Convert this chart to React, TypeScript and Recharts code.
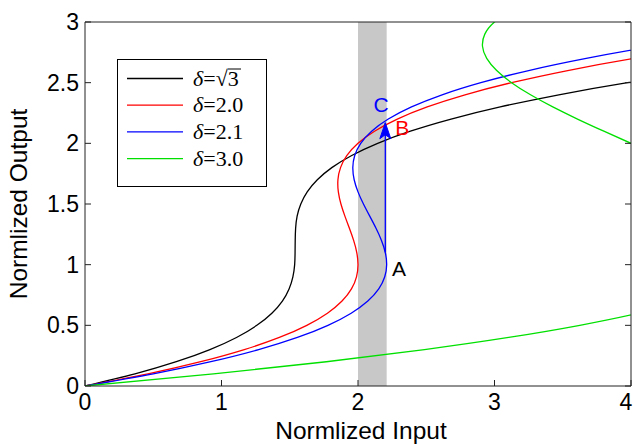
import { Legend, Line, LineChart, ReferenceArea, ReferenceDot, XAxis, YAxis } from "recharts";

const outputSqrt3 = [0, 0.1, 0.2, 0.3, 0.4, 0.5, 0.6, 0.7, 0.8, 0.9, 1.0, 1.1, 1.2, 1.3, 1.4, 1.5, 1.6, 1.7, 1.8, 1.9, 2.0, 2.1, 2.2, 2.3, 2.4, 2.5, 2.6];
const inputSqrt3 = [0, 0.366, 0.669, 0.915, 1.11, 1.259, 1.369, 1.446, 1.495, 1.523, 1.536, 1.539, 1.54, 1.543, 1.554, 1.581, 1.628, 1.702, 1.808, 1.954, 2.144, 2.384, 2.682, 3.042, 3.471, 3.975, 4.558];

const output20 = [0, 0.1, 0.2, 0.3, 0.4, 0.5, 0.6, 0.7, 0.8, 0.9, 1.0, 1.1, 1.2, 1.3, 1.4, 1.5, 1.6, 1.7, 1.8, 1.9, 2.0, 2.1, 2.2, 2.3, 2.4, 2.5, 2.6, 2.7, 2.8];
const input20 = [0, 0.461, 0.848, 1.167, 1.424, 1.625, 1.776, 1.883, 1.952, 1.989, 2.0, 1.991, 1.968, 1.937, 1.904, 1.875, 1.856, 1.853, 1.872, 1.919, 2.0, 2.121, 2.288, 2.507, 2.784, 3.125, 3.536, 4.023, 4.592];

const output21 = [0, 0.1, 0.2, 0.3, 0.4, 0.5, 0.6, 0.7, 0.8, 0.9, 1.0, 1.1, 1.2, 1.3, 1.4, 1.5, 1.6, 1.7, 1.8, 1.9, 2.0, 2.1, 2.2, 2.3, 2.4, 2.5, 2.6, 2.7, 2.8, 2.9];
const input21 = [0, 0.5, 0.922, 1.272, 1.556, 1.78, 1.95, 2.072, 2.152, 2.196, 2.21, 2.2, 2.172, 2.132, 2.086, 2.04, 2.0, 1.972, 1.962, 1.976, 2.02, 2.1, 2.222, 2.392, 2.616, 2.9, 3.25, 3.672, 4.172, 4.756];

const output30 = [0, 0.1, 0.2, 0.3, 0.4, 0.5, 0.6, 0.7, 0.8, 0.9, 1.0, 1.1, 1.2, 1.3, 1.4, 1.5, 1.6, 1.7, 1.8, 1.9, 2.0, 2.1, 2.2, 2.3, 2.4, 2.5, 2.6, 2.7, 2.8, 2.9, 3.0, 3.1];
const input30 = [0, 0.941, 1.768, 2.487, 3.104, 3.625, 4.056, 4.403, 4.672, 4.869, 5.0, 5.071, 5.088, 5.057, 4.984, 4.875, 4.736, 4.573, 4.392, 4.199, 4.0, 3.801, 3.608, 3.427, 3.264, 3.125, 3.016, 2.943, 2.912, 2.929, 3.0, 3.131];

// jump A -> B
const arrowInput = [2.2, 2.2];
const arrowOutput = [1.1, 2.17];

const xTicks = [0, 1, 2, 3, 4];
const yTicks = [0, 0.5, 1, 1.5, 2, 2.5, 3];
const bandRange = [2.0, 2.21];

const zip = (xs: number[], ys: number[]) => xs.map((x, i) => ({ input: x, output: ys[i] }));

const curves = [
  { name: "δ=√3", color: "#000000", data: zip(inputSqrt3, outputSqrt3) },
  { name: "δ=2.0", color: "#ff0000", data: zip(input20, output20) },
  { name: "δ=2.1", color: "#0000ff", data: zip(input21, output21) },
  { name: "δ=3.0", color: "#00e000", data: zip(input30, output30) },
];

const marks = [
  { text: "A", x: 2.3, y: 0.97, color: "#000000" },
  { text: "B", x: 2.325, y: 2.13, color: "#ff0000" },
  { text: "C", x: 2.17, y: 2.32, color: "#0000ff" },
];

const CHART_W = 633;
const font = "'Liberation Sans', Arial, sans-serif";
const serif = "'Liberation Serif', 'Times New Roman', serif";
const axisColor = "#222";
const TICK_IN = 6;

// legend drawn in curve order, like the MATLAB box
function DeltaLegend() {
  return (
    <svg width={150} height={128} style={{ display: "block" }}>
      <rect x={0.5} y={0.5} width={149} height={127} fill="#fff" stroke="#000" />
      {curves.map((c, i) => {
        const cy = 19.5 + i * 26.7;
        const value = c.name.replace("δ=", "");
        const isRoot = value.startsWith("√");
        return (
          <g key={c.name}>
            <line x1={10} x2={66} y1={cy} y2={cy} stroke={c.color} strokeWidth={1.3} />
            <text x={76} y={cy + 7} fontFamily={serif} fontSize={22} fill="#000">
              <tspan fontStyle="italic">δ</tspan>
              <tspan>={value}</tspan>
            </text>
            {isRoot && <line x1={111} x2={124} y1={cy - 9.5} y2={cy - 9.5} stroke="#000" strokeWidth={1} />}
          </g>
        );
      })}
    </svg>
  );
}

// bottom tick: label below the axis plus an inward tick mark
function BottomTick({ x, y, payload }: any) {
  const axisY = y - 8;
  // keep the last label inside the picture
  const tx = Math.min(x, CHART_W - 7);
  return (
    <g>
      <line x1={x} x2={x} y1={axisY} y2={axisY - TICK_IN} stroke={axisColor} />
      <text x={tx} y={y} dy="0.71em" textAnchor="middle" fontSize={23} fontFamily={font} fill="#000">
        {payload.value}
      </text>
    </g>
  );
}

function LeftTick({ x, y, payload }: any) {
  const axisX = x + 6;
  return (
    <g>
      <line x1={axisX} x2={axisX + TICK_IN} y1={y} y2={y} stroke={axisColor} />
      <text x={x} y={y} dy="0.355em" textAnchor="end" fontSize={23} fontFamily={font} fill="#000">
        {payload.value}
      </text>
    </g>
  );
}

function TopTick({ x, y }: any) {
  return <line x1={x} x2={x} y1={y} y2={y + TICK_IN} stroke={axisColor} />;
}

function RightTick({ x, y }: any) {
  return <line x1={x} x2={x - TICK_IN} y1={y} y2={y} stroke={axisColor} />;
}

function InputTitle({ viewBox }: any) {
  const cx = viewBox.x + viewBox.width / 2 + 3;
  return (
    <text x={cx} y={439} textAnchor="middle" fontSize={24.5} fontFamily={font} fill="#000">
      Normlized Input
    </text>
  );
}

function OutputTitle({ viewBox }: any) {
  const cx = 27;
  const cy = viewBox.y + viewBox.height / 2;
  return (
    <text x={cx} y={cy} transform={`rotate(-90, ${cx}, ${cy})`} textAnchor="middle" fontSize={24.5} fontFamily={font} fill="#000">
      Normlized Output
    </text>
  );
}

function ArrowHead(props: any) {
  const { cx, cy, index } = props;
  if (index !== arrowInput.length - 1) return <g key={index} />;
  return (
    <path
      key={index}
      d={`M ${cx} ${cy} L ${cx - 5.5} ${cy + 16} L ${cx} ${cy + 12} L ${cx + 5.5} ${cy + 16} Z`}
      fill="#0000ff"
      stroke="#0000ff"
      strokeWidth={1}
    />
  );
}

export default function App() {
  return (
    <div style={{ position: "absolute", left: 0, top: 0, background: "#fff" }}>
      <LineChart width={CHART_W} height={444} margin={{ top: 22, right: 2, bottom: 0, left: 0 }} style={{ fontFamily: font }}>
        <XAxis
          xAxisId="x"
          type="number"
          dataKey="input"
          domain={[0, 4]}
          ticks={xTicks}
          interval={0}
          allowDataOverflow
          height={58}
          tickLine={false}
          tickSize={0}
          tickMargin={8}
          tick={<BottomTick />}
          axisLine={{ stroke: axisColor }}
          label={<InputTitle />}
        />
        <XAxis
          xAxisId="xt"
          type="number"
          domain={[0, 4]}
          ticks={xTicks}
          interval={0}
          allowDataOverflow
          orientation="top"
          mirror
          height={30}
          tickLine={false}
          tickSize={0}
          tickMargin={0}
          tick={<TopTick />}
          axisLine={{ stroke: axisColor }}
        />
        <YAxis
          yAxisId="y"
          type="number"
          domain={[0, 3]}
          ticks={yTicks}
          interval={0}
          allowDataOverflow
          width={85}
          tickLine={false}
          tickSize={0}
          tickMargin={6}
          tick={<LeftTick />}
          axisLine={{ stroke: axisColor }}
          label={<OutputTitle />}
        />
        <YAxis
          yAxisId="yr"
          type="number"
          domain={[0, 3]}
          ticks={yTicks}
          interval={0}
          allowDataOverflow
          orientation="right"
          mirror
          width={30}
          tickLine={false}
          tickSize={0}
          tickMargin={0}
          tick={<RightTick />}
          axisLine={{ stroke: axisColor }}
        />

        <ReferenceArea xAxisId="x" yAxisId="y" x1={bandRange[0]} x2={bandRange[1]} fill="#c8c8c8" fillOpacity={1} stroke="none" />

        {curves.map((c) => (
          <Line
            key={c.name}
            xAxisId="x"
            yAxisId="y"
            data={c.data}
            dataKey="output"
            name={c.name}
            type="natural"
            stroke={c.color}
            strokeWidth={1.3}
            dot={false}
            activeDot={false}
            isAnimationActive={false}
          />
        ))}

        <Line
          xAxisId="x"
          yAxisId="y"
          data={zip(arrowInput, arrowOutput)}
          dataKey="output"
          name="jump"
          type="linear"
          stroke="#0000ff"
          strokeWidth={1.3}
          dot={ArrowHead}
          activeDot={false}
          legendType="none"
          isAnimationActive={false}
        />

        {marks.map((m) => (
          <ReferenceDot
            key={m.text}
            xAxisId="x"
            yAxisId="y"
            x={m.x}
            y={m.y}
            r={0}
            shape={(p: any) => (
              <text x={p.cx} y={p.cy} textAnchor="middle" dominantBaseline="central" fontSize={21} fontFamily={font} fill={m.color}>
                {m.text}
              </text>
            )}
          />
        ))}

        <Legend
          layout="vertical"
          align="center"
          verticalAlign="middle"
          content={<DeltaLegend />}
          wrapperStyle={{ position: "absolute", left: 117, top: 59, width: 150, height: 128 }}
        />
      </LineChart>
    </div>
  );
}
